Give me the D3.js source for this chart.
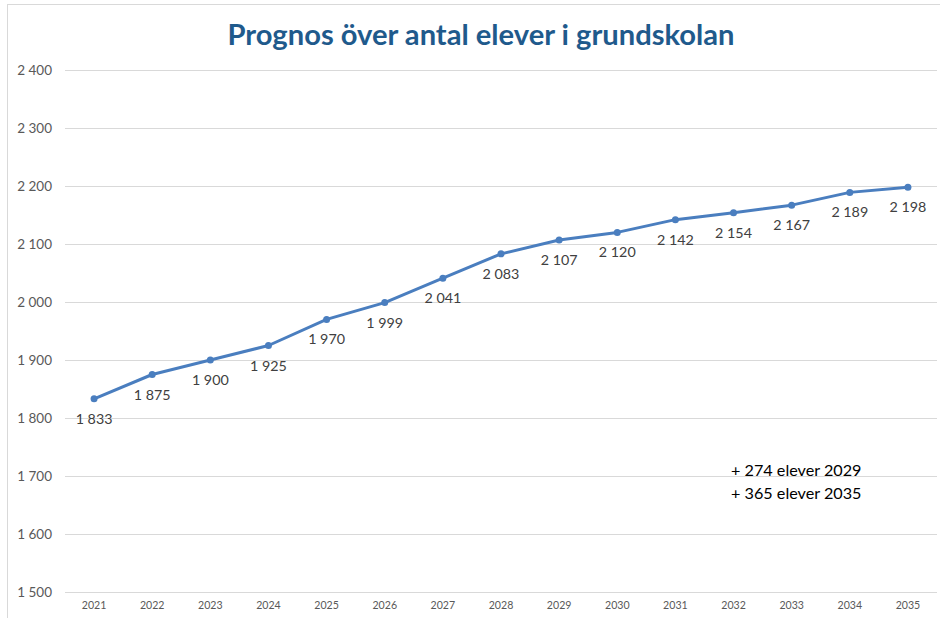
<!DOCTYPE html>
<html lang="sv">
  <head>
    <meta charset="utf-8">
    <title>Prognos över antal elever i grundskolan</title>
    <script src="https://cdn.jsdelivr.net/npm/d3@7"></script>
    <style>
      body { margin: 0; background: #fff; }
      svg { display: block; font-family: Lato, "Open Sans", sans-serif; }
    </style>
  </head>
  <body>
    <svg id="svg" width="940" height="618"></svg>
    <script>
        // -- data
        var years  = ["2021","2022","2023","2024","2025","2026","2027","2028","2029","2030","2031","2032","2033","2034","2035"];
        var pupils = [1833, 1875, 1900, 1925, 1970, 1999, 2041, 2083, 2107, 2120, 2142, 2154, 2167, 2189, 2198];
        var yTicks = [1500, 1600, 1700, 1800, 1900, 2000, 2100, 2200, 2300, 2400];
        var notes  = ["+ 274 elever 2029", "+ 365 elever 2035"];

        var svg = d3.select("svg#svg");
        var fmt = function(v) { return d3.format(",")(v).replace(",", "\u00a0"); };

        // -- outer chart frame
        svg.append("rect")
            .attr("x", 7.5).attr("y", 4.5)
            .attr("width", 940).attr("height", 620)
            .attr("fill", "none").attr("stroke", "#d9d9d9");

        var x = d3.scaleBand().domain(years).range([65, 937]);
        var y = d3.scaleLinear().domain([1500, 2400]).range([592, 70]);

        // -- title
        svg.append("text")
            .attr("x", 481).attr("y", 45)
            .attr("text-anchor", "middle")
            .attr("textLength", 507).attr("lengthAdjust", "spacingAndGlyphs")
            .style("font-size", "29px").style("font-weight", "bold")
            .style("fill", "#1f5a8c")
            .text("Prognos över antal elever i grundskolan");

        // -- gridlines + y labels
        var yAxis = svg.append("g")
            .attr("transform", "translate(65,0)")
            .call(d3.axisLeft(y).tickValues(yTicks).tickSize(-872).tickFormat(fmt).tickPadding(13));
        yAxis.select(".domain").remove();
        yAxis.selectAll("line").attr("stroke", "#d9d9d9");
        yAxis.selectAll("text").style("font-size", "13.5px").style("fill", "#595959")
            .style("font-family", "Lato, 'Open Sans', sans-serif");

        // -- x labels
        var xAxis = svg.append("g")
            .attr("transform", "translate(0,592)")
            .call(d3.axisBottom(x).tickSize(0).tickPadding(9));
        xAxis.select(".domain").remove();
        xAxis.selectAll("text").style("font-size", "10.6px").style("fill", "#595959")
            .style("font-family", "Lato, 'Open Sans', sans-serif");

        var cx = function(d, i) { return x(years[i]) + x.bandwidth() / 2; };

        // -- line
        var line = d3.line().x(cx).y(function(d) { return y(d); });
        svg.append("path")
            .datum(pupils)
            .attr("d", line)
            .attr("fill", "none")
            .attr("stroke", "#4a7ebf")
            .attr("stroke-width", 3)
            .attr("stroke-linejoin", "round");

        svg.selectAll("circle.pt")
            .data(pupils).enter().append("circle")
            .attr("class", "pt")
            .attr("cx", cx).attr("cy", function(d) { return y(d); })
            .attr("r", 3.5)
            .attr("fill", "#4a7ebf");

        // -- data labels below points
        svg.selectAll("text.lbl")
            .data(pupils).enter().append("text")
            .attr("class", "lbl")
            .attr("x", cx).attr("y", function(d) { return y(d) + 25; })
            .attr("text-anchor", "middle")
            .style("font-size", "14.3px").style("fill", "#404040")
            .text(fmt);

        // -- annotation
        svg.selectAll("text.note")
            .data(notes).enter().append("text")
            .attr("class", "note")
            .attr("x", 731).attr("y", function(d, i) { return 476 + i * 23; })
            .style("font-size", "16.2px").style("fill", "#000")
            .text(function(d) { return d; });
    </script>
  </body>
</html>
